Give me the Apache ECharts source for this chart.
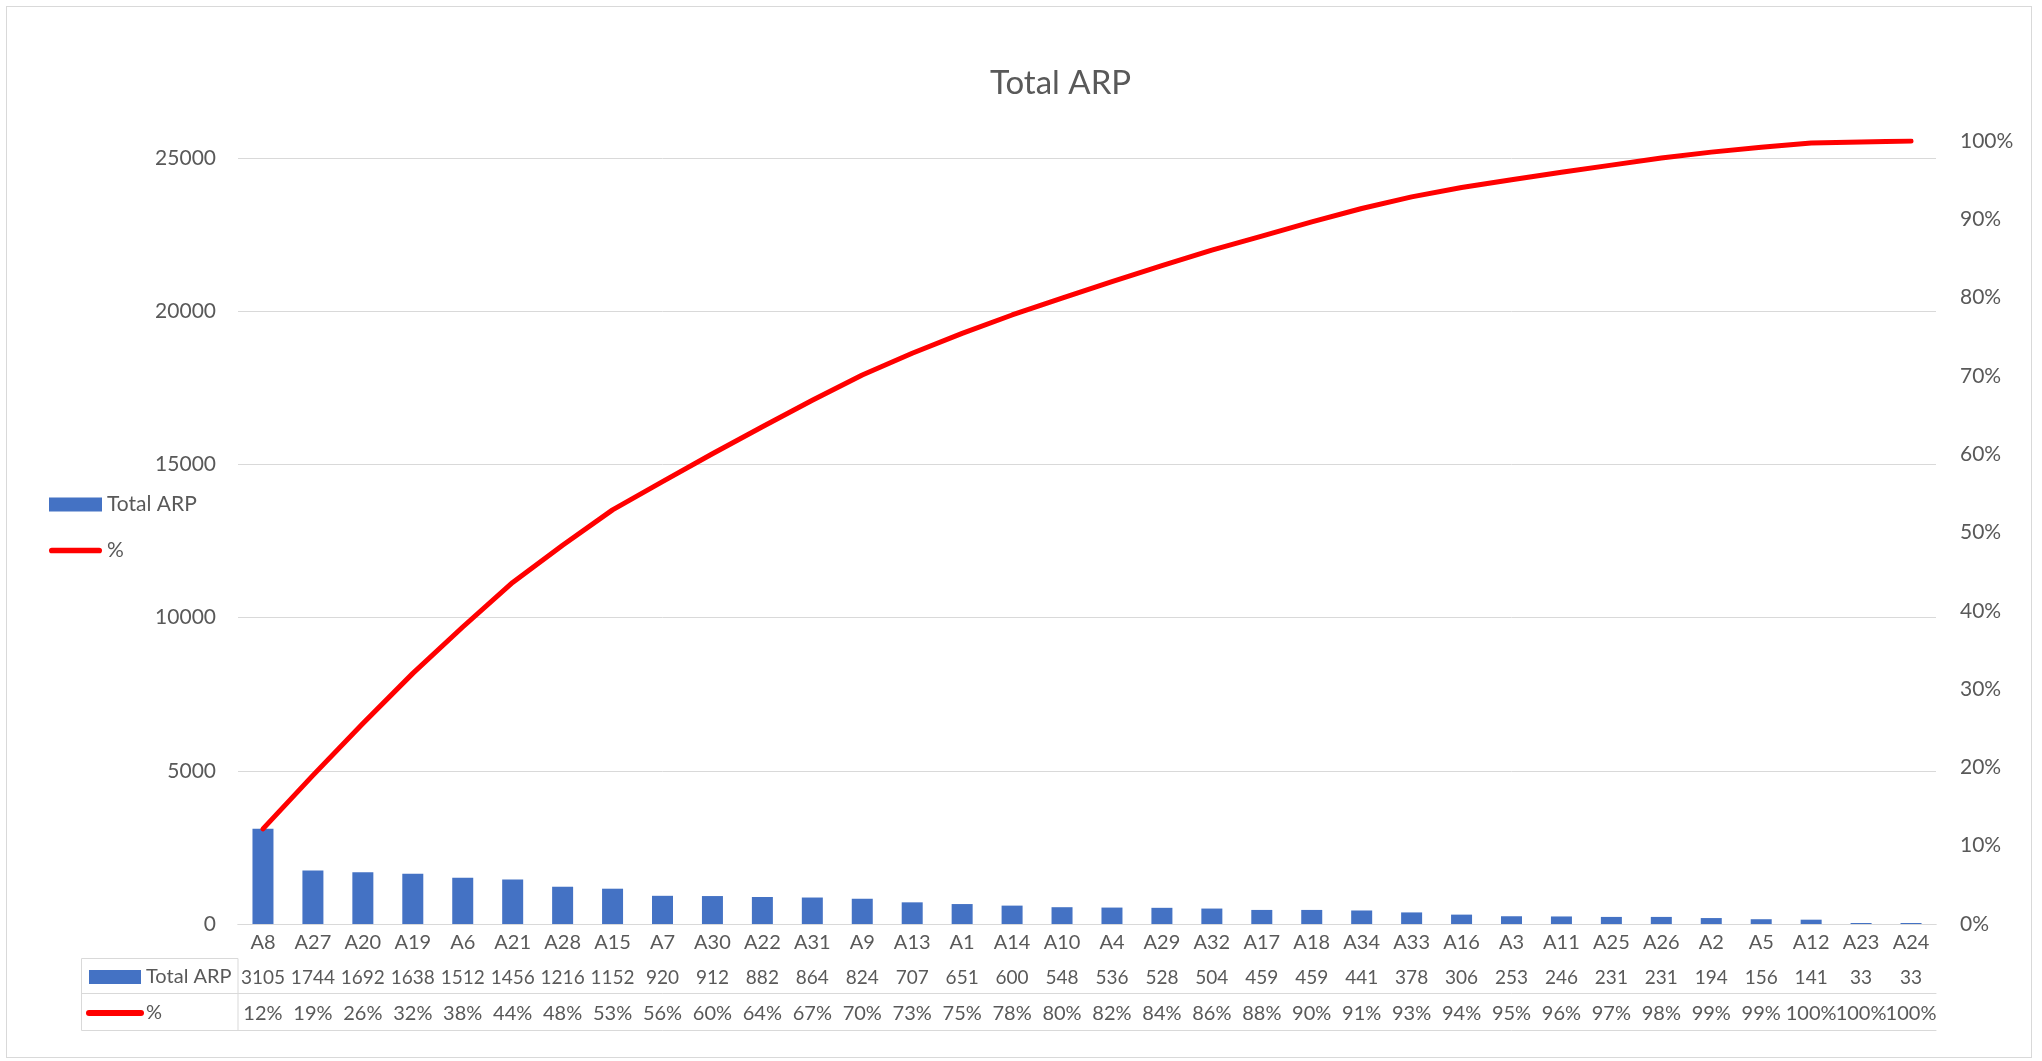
<!DOCTYPE html>
<html>
<head>
<meta charset="utf-8">
<title>Total ARP</title>
<script src="https://cdn.jsdelivr.net/npm/echarts@6/dist/echarts.min.js"></script>
<style>
html, body { margin: 0; padding: 0; background: #fff; }
#frame { position: absolute; left: 6px; top: 6px; width: 2024px; height: 1050px; border: 1px solid #d9d9d9; }
#myChart { position: absolute; left: 0; top: 0; width: 2042px; height: 1061px; }
</style>
</head>
<body>
<div id="frame"></div>
<div id="myChart"></div>
<script>
// data
const categories = ['A8', 'A27', 'A20', 'A19', 'A6', 'A21', 'A28', 'A15', 'A7', 'A30', 'A22', 'A31', 'A9', 'A13', 'A1', 'A14', 'A10',
  'A4', 'A29', 'A32', 'A17', 'A18', 'A34', 'A33', 'A16', 'A3', 'A11', 'A25', 'A26', 'A2', 'A5', 'A12', 'A23', 'A24']
const totalArp = [3105, 1744, 1692, 1638, 1512, 1456, 1216, 1152, 920, 912, 882, 864, 824, 707, 651, 600, 548,
  536, 528, 504, 459, 459, 441, 378, 306, 253, 246, 231, 231, 194, 156, 141, 33, 33]
// cumulative share (line)
const cumPct = [0.1215, 0.1898, 0.2560, 0.3201, 0.3793, 0.4362, 0.4838, 0.5289, 0.5649, 0.6006, 0.6351, 0.6690, 0.7012,
  0.7289, 0.7543, 0.7778, 0.7993, 0.8203, 0.8409, 0.8606, 0.8786, 0.8966, 0.9138, 0.9286, 0.9406, 0.9505, 0.9601,
  0.9692, 0.9782, 0.9858, 0.9919, 0.9974, 0.9987, 1.0]
const pctLabels = ['12%', '19%', '26%', '32%', '38%', '44%', '48%', '53%', '56%', '60%', '64%', '67%', '70%', '73%',
  '75%', '78%', '80%', '82%', '84%', '86%', '88%', '90%', '91%', '93%', '94%', '95%', '96%', '97%', '98%', '99%',
  '99%', '100%', '100%', '100%']
const leftMax = 25552
const leftInterval = 5000

const font = 'Lato'
const textColor = '#595959'
const gridColor = '#d9d9d9'
const barColor = '#4472C4'
const lineColor = '#FF0000'

const gridLeft = 238
const gridRight = 106
const gridTop = 141
const gridBottom = 137
const plotBottom = 1061 - gridBottom
const tableLeft = 81.5

const myChart = echarts.init(document.getElementById('myChart'))

const lineIcon = 'path://M3,0 L53,0 A3,3 0 0 1 53,6 L3,6 A3,3 0 0 1 3,0 Z'

const option = {
  animation: false,
  textStyle: { fontFamily: font, color: textColor },
  title: {
    text: 'Total ARP',
    left: 990,
    top: 67,
    padding: 0,
    textStyle: { fontFamily: font, fontSize: 33, fontWeight: 'normal', color: textColor }
  },
  legend: {
    orient: 'vertical',
    left: 49,
    top: 494,
    padding: 0,
    itemWidth: 53,
    itemHeight: 14,
    itemGap: 25,
    symbolKeepAspect: true,
    textStyle: { fontFamily: font, fontSize: 21, color: textColor, lineHeight: 20 },
    data: [
      { name: 'Total ARP', icon: 'rect' },
      { name: '%', icon: lineIcon }
    ]
  },
  grid: {
    left: gridLeft,
    right: gridRight,
    top: gridTop,
    bottom: gridBottom,
    containLabel: false,
    outerBoundsMode: 'none'
  },
  xAxis: [
    {
      type: 'category',
      data: categories,
      position: 'bottom',
      offset: 0,
      axisLine: { lineStyle: { color: gridColor, width: 1 } },
      axisTick: { interval: 0, length: 34, lineStyle: { color: gridColor } },
      axisLabel: { interval: 0, margin: 19, verticalAlign: 'middle', fontFamily: font, fontSize: 20, color: textColor }
    },
    {
      type: 'category',
      data: categories,
      position: 'bottom',
      offset: 34,
      axisLine: { lineStyle: { color: gridColor, width: 1 } },
      axisTick: { interval: 0, length: 35, lineStyle: { color: gridColor } },
      axisLabel: {
        interval: 0, margin: 20, verticalAlign: 'middle', fontFamily: font, fontSize: 19, color: textColor,
        formatter: (v, i) => String(totalArp[i])
      }
    },
    {
      type: 'category',
      data: categories,
      position: 'bottom',
      offset: 69,
      axisLine: { lineStyle: { color: gridColor, width: 1 } },
      axisTick: { interval: 0, length: 37, lineStyle: { color: gridColor } },
      axisLabel: {
        interval: 0, margin: 21, verticalAlign: 'middle', fontFamily: font, fontSize: 20, color: textColor,
        formatter: (v, i) => pctLabels[i]
      }
    },
    {
      type: 'category',
      data: categories,
      position: 'bottom',
      offset: 106,
      axisLine: { lineStyle: { color: gridColor, width: 1 } },
      axisTick: { show: false },
      axisLabel: { show: false }
    }
  ],
  yAxis: [
    {
      type: 'value',
      min: 0,
      max: leftMax,
      interval: leftInterval,
      axisLine: { show: false },
      axisTick: { show: false },
      axisLabel: {
        margin: 22, fontFamily: font, fontSize: 21, color: textColor, showMaxLabel: false,
        formatter: v => String(v)
      },
      splitLine: { showMaxLine: false, lineStyle: { color: gridColor, width: 1 } }
    },
    {
      type: 'value',
      position: 'right',
      min: 0,
      max: 1,
      interval: 0.1,
      axisLine: { show: false },
      axisTick: { show: false },
      axisLabel: {
        margin: 24, fontFamily: font, fontSize: 21, color: textColor,
        formatter: v => Math.round(v * 100) + '%'
      },
      splitLine: { show: false }
    }
  ],
  graphic: [
    // left column of the data table (series keys)
    {
      type: 'rect',
      silent: true,
      shape: { x: tableLeft, y: plotBottom + 34.5, width: gridLeft - tableLeft, height: 72 },
      style: { fill: 'none', stroke: gridColor, lineWidth: 1 }
    },
    {
      type: 'line',
      silent: true,
      shape: { x1: tableLeft, y1: plotBottom + 69.5, x2: gridLeft, y2: plotBottom + 69.5 },
      style: { stroke: gridColor, lineWidth: 1 }
    },
    {
      type: 'text',
      silent: true,
      x: 89,
      y: plotBottom + 53,
      style: {
        text: '{sw|}{t|Total ARP}',
        verticalAlign: 'middle',
        align: 'left',
        rich: {
          sw: { width: 52, height: 14, backgroundColor: barColor },
          t: { fontFamily: font, fontSize: 20, fill: textColor, padding: [0, 0, 0, 5] }
        }
      }
    },
    {
      type: 'text',
      silent: true,
      x: 86,
      y: plotBottom + 89,
      style: {
        text: '{ln|}{t|%}',
        verticalAlign: 'middle',
        align: 'left',
        rich: {
          ln: { width: 58, height: 6, borderRadius: 3, backgroundColor: lineColor },
          t: { fontFamily: font, fontSize: 20, fill: textColor, padding: [0, 0, 0, 2] }
        }
      }
    }
  ],
  series: [
    {
      name: 'Total ARP',
      type: 'bar',
      xAxisIndex: 0,
      yAxisIndex: 0,
      barWidth: 21,
      itemStyle: { color: barColor },
      data: totalArp
    },
    {
      name: '%',
      type: 'line',
      xAxisIndex: 0,
      yAxisIndex: 1,
      symbol: 'none',
      itemStyle: { color: lineColor },
      lineStyle: { color: lineColor, width: 5, cap: 'round', join: 'round' },
      data: cumPct
    }
  ]
}

myChart.setOption(option)
</script>
</body>
</html>
